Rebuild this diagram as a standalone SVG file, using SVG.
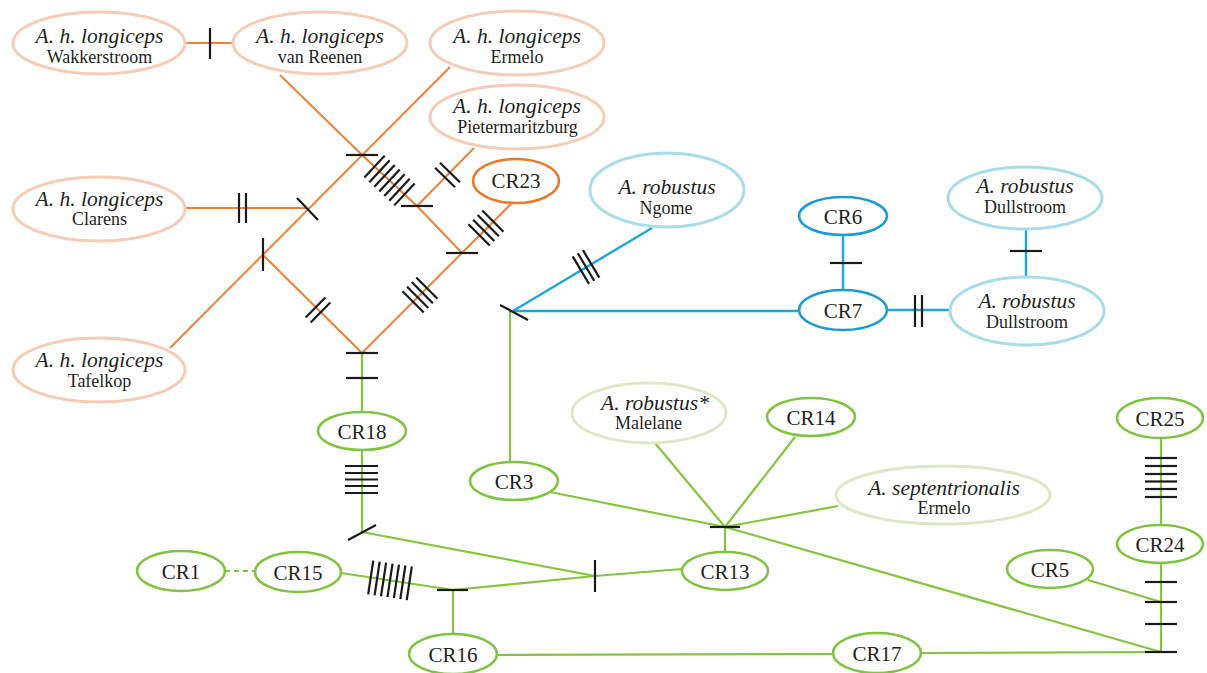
<svg xmlns="http://www.w3.org/2000/svg" width="1207" height="673" viewBox="0 0 1207 673">
<style>
.bg{fill:#ffffff}
ellipse{fill:#ffffff}
.pe{stroke:#f5cdb6;stroke-width:3}
.or{stroke:#e8782a;stroke-width:2.6}
.lb{stroke:#a9dbea;stroke-width:3}
.bl{stroke:#1b9ad6;stroke-width:2.6}
.lg{stroke:#dfe8c6;stroke-width:3}
.gr{stroke:#80c342;stroke-width:2.6}
.lo{stroke:#e8823c;stroke-width:2;fill:none}
.lbl{stroke:#1fa5de;stroke-width:2.4;fill:none}
.lgr{stroke:#84c441;stroke-width:2.2;fill:none}
.tk line,line.tk{stroke:#1a1a1a;stroke-width:2.2}
text{font-family:"Liberation Serif","DejaVu Serif",serif;fill:#231f20;text-anchor:middle}
.sp{font-style:italic;font-size:21.5px}
.loc{font-size:18px}
.cr{font-size:21px}
</style>
<rect class="bg" x="0" y="0" width="1207" height="673"/>

<g id="connectors">
  <!-- orange -->
  <line class="lo" x1="185" y1="43" x2="233" y2="43"/>
  <polyline class="lo" points="280,75 362,155 417,206 462,253"/>
  <line class="lo" x1="450" y1="67" x2="170" y2="348"/>
  <line class="lo" x1="474" y1="148" x2="417" y2="206"/>
  <line class="lo" x1="512" y1="203" x2="462" y2="253"/>
  <line class="lo" x1="462" y1="253" x2="362" y2="353"/>
  <line class="lo" x1="263" y1="255" x2="362" y2="353"/>
  <line class="lo" x1="185" y1="208" x2="307" y2="208"/>
  <!-- blue -->
  <line class="lbl" x1="513" y1="311" x2="799" y2="311"/>
  <line class="lbl" x1="513" y1="311" x2="652" y2="228"/>
  <line class="lbl" x1="843" y1="235" x2="843" y2="290"/>
  <line class="lbl" x1="1026" y1="229" x2="1026" y2="277"/>
  <line class="lbl" x1="887" y1="310" x2="950" y2="310"/>
  <!-- green -->
  <line class="lgr" x1="362" y1="353" x2="362" y2="412"/>
  <line class="lgr" x1="510" y1="311" x2="510" y2="462"/>
  <line class="lgr" x1="362" y1="450" x2="362" y2="532"/>
  <line class="lgr" x1="362" y1="532" x2="595" y2="576"/>
  <line class="lgr" x1="595" y1="576" x2="682" y2="569"/>
  <polyline class="lgr" points="341,573 453,590 595,576"/>
  <line class="lgr" x1="453" y1="590" x2="453" y2="634"/>
  <line class="lgr" x1="225" y1="571" x2="255" y2="571" stroke-dasharray="5,4"/>
  <line class="lgr" x1="497" y1="655" x2="833" y2="654"/>
  <line class="lgr" x1="921" y1="653" x2="1161" y2="652"/>
  <line class="lgr" x1="550" y1="492" x2="725" y2="527"/>
  <line class="lgr" x1="655" y1="443" x2="725" y2="527"/>
  <line class="lgr" x1="795" y1="437" x2="725" y2="527"/>
  <line class="lgr" x1="838" y1="506" x2="725" y2="527"/>
  <line class="lgr" x1="725" y1="527" x2="725" y2="552"/>
  <line class="lgr" x1="725" y1="527" x2="1161" y2="652"/>
  <line class="lgr" x1="1088" y1="580" x2="1161" y2="602"/>
  <line class="lgr" x1="1161" y1="563" x2="1161" y2="652"/>
  <line class="lgr" x1="1161" y1="438" x2="1161" y2="525"/>

  <!-- mutation ticks -->
  <g class="tk">
    <line x1="210" y1="28" x2="210" y2="59"/>
    <line x1="346" y1="155" x2="378" y2="155"/>
    <line x1="401" y1="206" x2="433" y2="206"/>
    <line x1="446" y1="253" x2="478" y2="253"/>
    <line x1="346" y1="353" x2="378" y2="353"/>
    <line x1="346" y1="378" x2="378" y2="378"/>
    <line x1="297" y1="198" x2="318" y2="220"/>
    <line x1="263" y1="238" x2="263" y2="271"/>
    <line x1="239" y1="193" x2="239" y2="223"/>
    <line x1="246" y1="193" x2="246" y2="223"/>
    <g transform="translate(389.5,180.5) rotate(42.9)">
      <line x1="-20.4" y1="-15" x2="-20.4" y2="15"/>
      <line x1="-13.6" y1="-15" x2="-13.6" y2="15"/>
      <line x1="-6.8" y1="-15" x2="-6.8" y2="15"/>
      <line x1="0" y1="-15" x2="0" y2="15"/>
      <line x1="6.8" y1="-15" x2="6.8" y2="15"/>
      <line x1="13.6" y1="-15" x2="13.6" y2="15"/>
      <line x1="20.4" y1="-15" x2="20.4" y2="15"/>
    </g>
    <g transform="translate(447.5,175) rotate(-45.5)">
      <line x1="-3.5" y1="-14" x2="-3.5" y2="14"/>
      <line x1="3.5" y1="-14" x2="3.5" y2="14"/>
    </g>
    <g transform="translate(486,228) rotate(-45)">
      <line x1="-9.75" y1="-15" x2="-9.75" y2="15"/>
      <line x1="-3.25" y1="-15" x2="-3.25" y2="15"/>
      <line x1="3.25" y1="-15" x2="3.25" y2="15"/>
      <line x1="9.75" y1="-15" x2="9.75" y2="15"/>
    </g>
    <g transform="translate(420,295) rotate(-45)">
      <line x1="-9.75" y1="-15" x2="-9.75" y2="15"/>
      <line x1="-3.25" y1="-15" x2="-3.25" y2="15"/>
      <line x1="3.25" y1="-15" x2="3.25" y2="15"/>
      <line x1="9.75" y1="-15" x2="9.75" y2="15"/>
    </g>
    <g transform="translate(318,310) rotate(44.7)">
      <line x1="-3.5" y1="-14" x2="-3.5" y2="14"/>
      <line x1="3.5" y1="-14" x2="3.5" y2="14"/>
    </g>
    <!-- blue area -->
    <line x1="500" y1="305" x2="528" y2="320"/>
    <g transform="translate(586,267) rotate(-30.8)">
      <line x1="-6" y1="-16" x2="-6" y2="16"/>
      <line x1="0" y1="-16" x2="0" y2="16"/>
      <line x1="6" y1="-16" x2="6" y2="16"/>
    </g>
    <line x1="830" y1="263" x2="862" y2="263"/>
    <line x1="1010" y1="251" x2="1042" y2="251"/>
    <line x1="915" y1="295" x2="915" y2="327"/>
    <line x1="922" y1="295" x2="922" y2="327"/>
    <!-- green area -->
    <line x1="345" y1="466" x2="378" y2="466"/>
    <line x1="345" y1="473" x2="378" y2="473"/>
    <line x1="345" y1="479.5" x2="378" y2="479.5"/>
    <line x1="345" y1="486" x2="378" y2="486"/>
    <line x1="345" y1="493" x2="378" y2="493"/>
    <line x1="348" y1="540" x2="376" y2="525"/>
    <line x1="595" y1="560" x2="595" y2="592"/>
    <line x1="437" y1="590" x2="468" y2="590"/>
    <g transform="translate(390,580.4) rotate(8.6)">
      <line x1="-19.5" y1="-17" x2="-19.5" y2="17"/>
      <line x1="-13" y1="-17" x2="-13" y2="17"/>
      <line x1="-6.5" y1="-17" x2="-6.5" y2="17"/>
      <line x1="0" y1="-17" x2="0" y2="17"/>
      <line x1="6.5" y1="-17" x2="6.5" y2="17"/>
      <line x1="13" y1="-17" x2="13" y2="17"/>
      <line x1="19.5" y1="-17" x2="19.5" y2="17"/>
    </g>
    <line x1="710" y1="527" x2="740" y2="527"/>
    <line x1="1145" y1="582" x2="1177" y2="582"/>
    <line x1="1145" y1="602" x2="1177" y2="602"/>
    <line x1="1145" y1="624" x2="1177" y2="624"/>
    <line x1="1145" y1="652" x2="1177" y2="652"/>
    <line x1="1145" y1="458" x2="1177" y2="458"/>
    <line x1="1145" y1="466" x2="1177" y2="466"/>
    <line x1="1145" y1="474" x2="1177" y2="474"/>
    <line x1="1145" y1="481.5" x2="1177" y2="481.5"/>
    <line x1="1145" y1="489" x2="1177" y2="489"/>
    <line x1="1145" y1="497" x2="1177" y2="497"/>
  </g>
</g>

<!-- orange nodes -->
<g id="wakkerstroom"><ellipse class="pe" cx="99" cy="43" rx="86" ry="31"/><text class="sp" x="99.5" y="43">A. h. longiceps</text><text class="loc" x="99.5" y="63">Wakkerstroom</text></g>
<g id="vanreenen"><ellipse class="pe" cx="320" cy="43" rx="87" ry="31"/><text class="sp" x="320" y="43">A. h. longiceps</text><text class="loc" x="320" y="63">van Reenen</text></g>
<g id="ermelo-ahl"><ellipse class="pe" cx="517" cy="43" rx="87" ry="32"/><text class="sp" x="517" y="43">A. h. longiceps</text><text class="loc" x="517" y="63">Ermelo</text></g>
<g id="pietermaritzburg"><ellipse class="pe" cx="517" cy="117" rx="87" ry="32"/><text class="sp" x="517" y="113">A. h. longiceps</text><text class="loc" x="517.5" y="133">Pietermaritzburg</text></g>
<g id="clarens"><ellipse class="pe" cx="99" cy="209" rx="86" ry="32"/><text class="sp" x="99.5" y="206">A. h. longiceps</text><text class="loc" x="99.5" y="225">Clarens</text></g>
<g id="tafelkop"><ellipse class="pe" cx="99" cy="370" rx="86" ry="32"/><text class="sp" x="99.5" y="367">A. h. longiceps</text><text class="loc" x="99.5" y="387">Tafelkop</text></g>
<g id="cr23"><ellipse class="or" cx="516" cy="181" rx="43" ry="22"/><text class="cr" x="516" y="188">CR23</text></g>

<!-- blue nodes -->
<g id="ngome"><ellipse class="lb" cx="667" cy="190" rx="77" ry="37"/><text class="sp" x="667" y="194">A. robustus</text><text class="loc" x="666" y="214">Ngome</text></g>
<g id="cr6"><ellipse class="bl" cx="843" cy="216" rx="44" ry="19"/><text class="cr" x="843" y="223.5">CR6</text></g>
<g id="cr7"><ellipse class="bl" cx="843" cy="310" rx="44" ry="20"/><text class="cr" x="843" y="317.5">CR7</text></g>
<g id="dullstroom-top"><ellipse class="lb" cx="1025" cy="198" rx="77" ry="31"/><text class="sp" x="1025" y="193">A. robustus</text><text class="loc" x="1025" y="213">Dullstroom</text></g>
<g id="dullstroom-bottom"><ellipse class="lb" cx="1027" cy="311" rx="77" ry="34"/><text class="sp" x="1027" y="308">A. robustus</text><text class="loc" x="1027" y="328">Dullstroom</text></g>

<!-- green nodes -->
<g id="malelane"><ellipse class="lg" cx="649" cy="413" rx="77" ry="30"/><text class="sp" x="655" y="410">A. robustus*</text><text class="loc" x="648.5" y="429">Malelane</text></g>
<g id="septentrionalis"><ellipse class="lg" cx="943" cy="495" rx="107" ry="29"/><text class="sp" x="944" y="495">A. septentrionalis</text><text class="loc" x="944" y="514">Ermelo</text></g>
<g id="cr18"><ellipse class="gr" cx="362" cy="431" rx="44" ry="19"/><text class="cr" x="362" y="438.5">CR18</text></g>
<g id="cr3"><ellipse class="gr" cx="514" cy="481" rx="44" ry="19"/><text class="cr" x="514" y="488.5">CR3</text></g>
<g id="cr14"><ellipse class="gr" cx="811" cy="417" rx="44" ry="19"/><text class="cr" x="811" y="424.5">CR14</text></g>
<g id="cr13"><ellipse class="gr" cx="725" cy="571" rx="43" ry="19"/><text class="cr" x="725" y="578.5">CR13</text></g>
<g id="cr1"><ellipse class="gr" cx="181" cy="571" rx="44" ry="20"/><text class="cr" x="181" y="578.5">CR1</text></g>
<g id="cr15"><ellipse class="gr" cx="298" cy="572" rx="43" ry="20"/><text class="cr" x="298" y="579.5">CR15</text></g>
<g id="cr16"><ellipse class="gr" cx="453" cy="654" rx="44" ry="20"/><text class="cr" x="453" y="661.5">CR16</text></g>
<g id="cr17"><ellipse class="gr" cx="877" cy="653" rx="44" ry="20"/><text class="cr" x="877" y="660.5">CR17</text></g>
<g id="cr25"><ellipse class="gr" cx="1160" cy="418" rx="43" ry="20"/><text class="cr" x="1160" y="425.5">CR25</text></g>
<g id="cr24"><ellipse class="gr" cx="1160" cy="544" rx="43" ry="19"/><text class="cr" x="1160" y="551.5">CR24</text></g>
<g id="cr5"><ellipse class="gr" cx="1050" cy="569" rx="43" ry="19"/><text class="cr" x="1050" y="576.5">CR5</text></g>
</svg>
